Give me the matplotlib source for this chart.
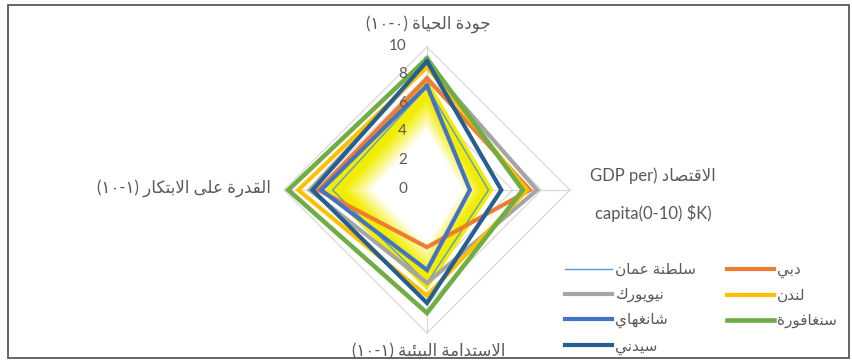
import numpy as np
import matplotlib
matplotlib.use("Agg")
import matplotlib.pyplot as plt
from matplotlib.patches import Rectangle, Polygon

plt.rcParams['font.family'] = ['Lato', 'DejaVu Sans']

# ---------------- data ----------------
axis_names = ["جودة الحياة", "الاقتصاد", "الاستدامة البيئية", "القدرة على الابتكار"]
series_names = ["سلطنة عمان", "دبي", "نيويورك", "لندن", "شانغهاي", "سنغافورة", "سيدني"]
# values per axis: [quality of life (top), GDP (right), sustainability (bottom), innovation (left)]
oman      = [7.2, 4.3, 6.5, 6.6]
dubai     = [7.8, 7.2, 4.0, 7.6]
new_york  = [8.8, 7.7, 6.5, 8.2]
london    = [8.6, 7.0, 7.4, 9.0]
shanghai  = [7.3, 3.0, 5.6, 7.4]
singapore = [9.2, 6.7, 8.6, 9.7]
sydney    = [9.0, 5.2, 7.9, 8.0]
radial_ticks = [0, 2, 4, 6, 8, 10]
r_max = 10

series_values = [oman, dubai, new_york, london, shanghai, singapore, sydney]
colors = ["#5B9BD5", "#ED7D31", "#A5A5A5", "#FFC000", "#4472C4", "#70AD47", "#255E91"]
widths = [1.0, 3.0, 3.0, 3.0, 3.0, 3.3, 3.0]

# ---------------- minimal Arabic shaping ----------------
FORMS = {
    'ا': ('\uFE8D', '\uFE8E', None, None),
    'ب': ('\uFE8F', '\uFE90', '\uFE91', '\uFE92'),
    'ة': ('\uFE93', '\uFE94', None, None),
    'ت': ('\uFE95', '\uFE96', '\uFE97', '\uFE98'),
    'ج': ('\uFE9D', '\uFE9E', '\uFE9F', '\uFEA0'),
    'ح': ('\uFEA1', '\uFEA2', '\uFEA3', '\uFEA4'),
    'د': ('\uFEA9', '\uFEAA', None, None),
    'ر': ('\uFEAD', '\uFEAE', None, None),
    'س': ('\uFEB1', '\uFEB2', '\uFEB3', '\uFEB4'),
    'ش': ('\uFEB5', '\uFEB6', '\uFEB7', '\uFEB8'),
    'ص': ('\uFEB9', '\uFEBA', '\uFEBB', '\uFEBC'),
    'ط': ('\uFEC1', '\uFEC2', '\uFEC3', '\uFEC4'),
    'ع': ('\uFEC9', '\uFECA', '\uFECB', '\uFECC'),
    'غ': ('\uFECD', '\uFECE', '\uFECF', '\uFED0'),
    'ف': ('\uFED1', '\uFED2', '\uFED3', '\uFED4'),
    'ق': ('\uFED5', '\uFED6', '\uFED7', '\uFED8'),
    'ك': ('\uFED9', '\uFEDA', '\uFEDB', '\uFEDC'),
    'ل': ('\uFEDD', '\uFEDE', '\uFEDF', '\uFEE0'),
    'م': ('\uFEE1', '\uFEE2', '\uFEE3', '\uFEE4'),
    'ن': ('\uFEE5', '\uFEE6', '\uFEE7', '\uFEE8'),
    'ه': ('\uFEE9', '\uFEEA', '\uFEEB', '\uFEEC'),
    'و': ('\uFEED', '\uFEEE', None, None),
    'ى': ('\uFEEF', '\uFEF0', None, None),
    'ي': ('\uFEF1', '\uFEF2', '\uFEF3', '\uFEF4'),
    'ئ': ('\uFE89', '\uFE8A', '\uFE8B', '\uFE8C'),
}
RIGHT_ONLY = set('ادذرزوةى')


def joins_next(c):
    return c in FORMS and c not in RIGHT_ONLY


def shape(text):
    out = []
    n = len(text)
    i = 0
    while i < n:
        c = text[i]
        if c not in FORMS:
            out.append(c)
            i += 1
            continue
        prev = text[i - 1] if i > 0 else None
        cp = prev is not None and joins_next(prev)
        if c == 'ل' and i + 1 < n and text[i + 1] == 'ا':
            out.append('\uFEFC' if cp else '\uFEFB')
            i += 2
            continue
        nxt = text[i + 1] if i + 1 < n else None
        cn = joins_next(c) and nxt is not None and nxt in FORMS
        iso, fin, ini, med = FORMS[c]
        if cp and cn:
            f = med
        elif cp:
            f = fin
        elif cn:
            f = ini
        else:
            f = iso
        out.append(f)
        i += 1
    return ''.join(reversed(out))


# ---------------- figure ----------------
W, H, DPI = 853, 363, 100
fig = plt.figure(figsize=(W / DPI, H / DPI), dpi=DPI)
CX, CY, S = 427.0, 190.0, 14.3  # pixel centre and px per unit
ax = fig.add_axes([0, 0, 1, 1])
ax.set_xlim(-CX / S, (W - CX) / S)
ax.set_ylim(-(H - CY) / S, CY / S)
ax.axis('off')


def P(px, py):
    return (px - CX) / S, (CY - py) / S


angles = np.deg2rad([90, 0, -90, 180])


def xy(vals, scale=1.0):
    v = np.asarray(vals, dtype=float) * scale
    return v * np.cos(angles), v * np.sin(angles)


grid_c = "#D9D9D9"
# rings
for r in radial_ticks[1:]:
    gx, gy = xy([r] * 4)
    ax.plot(np.append(gx, gx[0]), np.append(gy, gy[0]), color=grid_c, lw=0.9, zorder=1)
# spokes
for a in angles:
    ax.plot([0, r_max * np.cos(a)], [0, r_max * np.sin(a)], color=grid_c, lw=0.9, zorder=1)

# yellow glow fill (gradient) on the first series
yellow = np.array([0.95, 0.93, 0.0])
white = np.array([1.0, 1.0, 1.0])
for s in np.linspace(1.08, 0.45, 50):
    t = np.clip((0.9 - s) / (0.9 - 0.58), 0, 1)
    col = yellow * (1 - t) + white * t
    fx, fy = xy(oman, s)
    ax.add_patch(Polygon(np.column_stack([fx, fy]), closed=True, facecolor=col,
                         edgecolor='none', zorder=2))

# series lines
handles = []
for name, vals, c, lw in zip(series_names, series_values, colors, widths):
    lx, ly = xy(vals)
    h, = ax.plot(np.append(lx, lx[0]), np.append(ly, ly[0]), color=c, lw=lw,
                 solid_joinstyle='miter', zorder=3, label=shape(name))
    handles.append(h)

# radial tick labels
txt_c = "#595959"
for r in radial_ticks:
    ax.text(P(407, 0)[0], r + 0.1, str(r), ha='right', va='center', fontsize=11, color=txt_c, zorder=4)

# axis labels
fs = 12
ax.text(*P(428, 24), "(١٠-٠) " + shape(axis_names[0]), ha='center', va='center', fontsize=fs, color=txt_c)
ax.text(*P(653, 176), "GDP per) " + shape(axis_names[1]), ha='center', va='center', fontsize=fs, color=txt_c)
ax.text(*P(653, 213), "capita(0-10) $K)", ha='center', va='center', fontsize=fs, color=txt_c)
ax.text(*P(429, 351), "(١٠-١) " + shape(axis_names[2]), ha='center', va='center', fontsize=fs, color=txt_c)
ax.text(*P(184, 188), "(١٠-١) " + shape(axis_names[3]), ha='center', va='center', fontsize=fs, color=txt_c)

# legend: row-major order in two columns
order = [0, 2, 4, 6, 1, 3, 5]
leg = fig.legend([handles[i] for i in order], [handles[i].get_label() for i in order],
                 ncol=2, loc='upper left', bbox_to_anchor=(565 / W, 1 - 263 / H),
                 frameon=False, fontsize=11, handlelength=3.1, handletextpad=0.2,
                 columnspacing=2.0, labelspacing=0.72, borderaxespad=0, borderpad=0)
for t in leg.get_texts():
    t.set_color(txt_c)

# chart border
fig.patches.append(Rectangle((8 / W, 5 / H), (849 - 8) / W, (360 - 7) / H, transform=fig.transFigure,
                             fill=False, edgecolor="#595959", lw=1.3))

fig.savefig("out.png", dpi=DPI)
